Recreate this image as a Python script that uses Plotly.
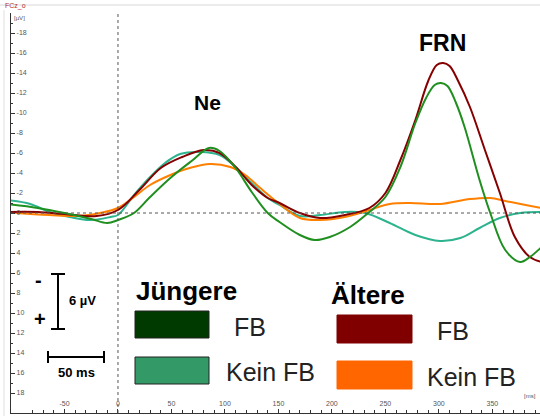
import plotly.graph_objects as go

# ---------------- data (time in ms, amplitude in µV) ----------------
jung_fb_t = [-105, -75, -50, -25, -10, 0, 15, 30, 50, 70, 85, 95, 110, 125, 140, 151, 170, 184, 198, 217, 235, 250, 264, 278, 288, 296, 302, 308, 316, 324, 338, 348, 362, 376, 385, 396]
jung_fb_v = [-0.9, -0.5, 0.0, 0.6, 1.0, 0.7, 0.0, -1.6, -3.6, -5.3, -6.5, -6.2, -4.5, -2.1, 0.0, 0.9, 2.2, 2.7, 2.4, 1.4, -0.1, -1.6, -4.6, -9.0, -11.5, -12.8, -13.0, -12.7, -11.0, -8.6, -3.3, 0.0, 3.7, 4.9, 4.4, 3.4]

jung_kfb_t = [-105, -82, -64, -45, -26, -7, 0, 15, 30, 44, 58, 77, 95, 110, 125, 140, 151, 170, 189, 212, 231, 254, 278, 301, 320, 338, 357, 376, 396]
jung_kfb_v = [-1.3, -0.9, -0.1, 0.4, 0.7, 0.4, 0.2, -1.8, -3.6, -5.0, -5.9, -6.1, -5.8, -4.6, -3.0, -1.5, -0.8, 0.3, 0.2, -0.1, 0.0, 1.0, 2.2, 2.8, 2.5, 1.5, 0.5, 0.0, -0.1]

alt_fb_t = [-105, -75, -50, -20, 0, 20, 40, 60, 80, 95, 110, 125, 140, 151, 170, 189, 212, 235, 250, 264, 278, 290, 298, 304, 310, 318, 329, 343, 357, 371, 385, 396]
alt_fb_v = [-0.1, -0.1, 0.1, 0.3, -0.3, -2.3, -4.5, -5.6, -6.3, -6.0, -4.6, -2.8, -1.5, -1.0, 0.0, 0.5, 0.2, -0.5, -2.0, -5.3, -9.3, -13.2, -14.8, -15.0, -14.7, -13.2, -10.6, -6.3, -2.0, 2.4, 4.4, 4.9]

alt_kfb_t = [-105, -64, -36, -17, 0, 15, 30, 49, 67, 86, 105, 119, 133, 150, 170, 189, 212, 235, 254, 273, 301, 329, 348, 362, 381, 396]
alt_kfb_v = [-0.1, 0.2, 0.3, 0.0, -0.5, -1.6, -2.8, -3.8, -4.5, -4.9, -4.6, -3.8, -2.5, -1.0, 0.5, 0.7, 0.4, -0.3, -0.9, -1.0, -0.9, -1.4, -1.5, -1.2, -0.8, -0.5]

y_tickvals = [-18, -16, -14, -12, -10, -8, -6, -4, -2, 0, 2, 4, 6, 8, 10, 12, 14, 16, 18]
y_ticktext = ["-18", "-16", "-14", "-12", "-10", "-8", "-6", "-4", "-2", "0", "2", "4", "6", "8", "10", "12", "14", "16", "18"]
x_tickvals = [-50, 0, 50, 100, 150, 200, 250, 300, 350]
x_ticktext = ["-50", "0", "50", "100", "150", "200", "250", "300", "350"]

W, H = 540, 416
def px(x):
    return x / W
def py(y):
    return 1 - y / H

FONT = "Arial, Liberation Sans, sans-serif"

fig = go.Figure()
series = [
    (jung_kfb_t, jung_kfb_v, "#2DB48E", "Jüngere Kein FB"),
    (alt_kfb_t, alt_kfb_v, "#FF8000", "Ältere Kein FB"),
    (alt_fb_t, alt_fb_v, "#850000", "Ältere FB"),
    (jung_fb_t, jung_fb_v, "#1F8F1F", "Jüngere FB"),
]
for t, v, c, n in series:
    fig.add_trace(go.Scatter(x=t, y=v, mode="lines", name=n,
                             line=dict(color=c, width=2, shape="spline", smoothing=1.0),
                             showlegend=False, hoverinfo="skip"))

# zero lines (dotted)
fig.add_shape(type="line", xref="x", yref="paper", x0=0, x1=0, y0=py(413), y1=py(13),
              line=dict(color="#555", width=1, dash="dot"))
fig.add_shape(type="line", xref="paper", yref="y", x0=px(11), x1=1, y0=0, y1=0,
              line=dict(color="#555", width=1, dash="dot"))

# window borders
fig.add_shape(type="line", xref="paper", yref="paper", x0=0, x1=1, y0=py(5), y1=py(5),
              line=dict(color="#d8d8d8", width=1))
fig.add_shape(type="line", xref="paper", yref="paper", x0=px(4), x1=px(4), y0=0, y1=py(10),
              line=dict(color="#e0e0e0", width=1))

ann = []
def text(x, y, s, size, bold=False, color="#000", xanchor="center", yanchor="middle"):
    ann.append(dict(x=px(x), y=py(y), xref="paper", yref="paper", text=("<b>%s</b>" % s) if bold else s,
                    showarrow=False, font=dict(family=FONT, size=size, color=color),
                    xanchor=xanchor, yanchor=yanchor))

text(3, 6, "FCz_o", 7, color="#b03030", xanchor="left")
text(12, 18, "[µV]", 6, color="#555", xanchor="left")
text(538, 396, "[ms]", 6, color="#555", xanchor="right")

text(207, 102, "Ne", 21, bold=True)
text(442, 43, "FRN", 23, bold=True)

# scale bars
fig.add_shape(type="line", xref="paper", yref="paper", x0=px(58), x1=px(58), y0=py(274), y1=py(329), line=dict(color="#000", width=2))
fig.add_shape(type="line", xref="paper", yref="paper", x0=px(51), x1=px(65), y0=py(274), y1=py(274), line=dict(color="#000", width=2))
fig.add_shape(type="line", xref="paper", yref="paper", x0=px(51), x1=px(65), y0=py(329), y1=py(329), line=dict(color="#000", width=2))
fig.add_shape(type="line", xref="paper", yref="paper", x0=px(48), x1=px(104), y0=py(357), y1=py(357), line=dict(color="#000", width=2))
fig.add_shape(type="line", xref="paper", yref="paper", x0=px(48), x1=px(48), y0=py(351), y1=py(363), line=dict(color="#000", width=2))
fig.add_shape(type="line", xref="paper", yref="paper", x0=px(104), x1=px(104), y0=py(351), y1=py(363), line=dict(color="#000", width=2))
text(39, 280, "-", 20, bold=True)
text(40, 319, "+", 20, bold=True)
text(82, 300, "6 µV", 13, bold=True)
text(76, 372, "50 ms", 13, bold=True)

# legend
text(134, 291, "Jüngere", 26, bold=True, xanchor="left")
text(329, 295, "Ältere", 26, bold=True, xanchor="left")
boxes = [
    (135, 311, 209, 338, "#013A01", "#222"),
    (135, 357, 209, 384, "#339966", "#222"),
    (337, 315, 412, 343, "#800000", "#800000"),
    (337, 361, 412, 389, "#FF6600", "#FF6600"),
]
for x0, y0, x1, y1, fc, lc in boxes:
    fig.add_shape(type="rect", xref="paper", yref="paper", x0=px(x0), x1=px(x1), y0=py(y0), y1=py(y1),
                  fillcolor=fc, line=dict(color=lc, width=1))
text(232, 327, "FB", 25, color="#222", xanchor="left")
text(224, 372, "Kein FB", 25, color="#222", xanchor="left")
text(435, 331, "FB", 25, color="#222", xanchor="left")
text(425, 377, "Kein FB", 25, color="#222", xanchor="left")

fig.update_layout(
    width=W, height=H, margin=dict(l=0, r=0, t=0, b=0),
    paper_bgcolor="white", plot_bgcolor="white",
    annotations=ann,
    xaxis=dict(domain=[px(11), 1], range=[-100, 394.5], showgrid=False, zeroline=False,
               showline=True, linecolor="#333", linewidth=1,
               tickvals=x_tickvals, ticktext=x_ticktext, ticks="inside", ticklen=4, tickcolor="#333",
               ticklabelposition="inside", tickfont=dict(family=FONT, size=7, color="#555"),
               minor=dict(dtick=10, tick0=0, ticks="inside", ticklen=3, tickcolor="#333")),
    yaxis=dict(domain=[py(413), py(13)], range=[20, -20], showgrid=False, zeroline=False,
               showline=True, linecolor="#333", linewidth=1,
               tickvals=y_tickvals, ticktext=y_ticktext, ticks="inside", ticklen=4, tickcolor="#333",
               ticklabelposition="inside", tickfont=dict(family=FONT, size=7, color="#555"),
               minor=dict(dtick=1, tick0=0, ticks="inside", ticklen=2, tickcolor="#333")),
)

fig.write_html("out.html")
